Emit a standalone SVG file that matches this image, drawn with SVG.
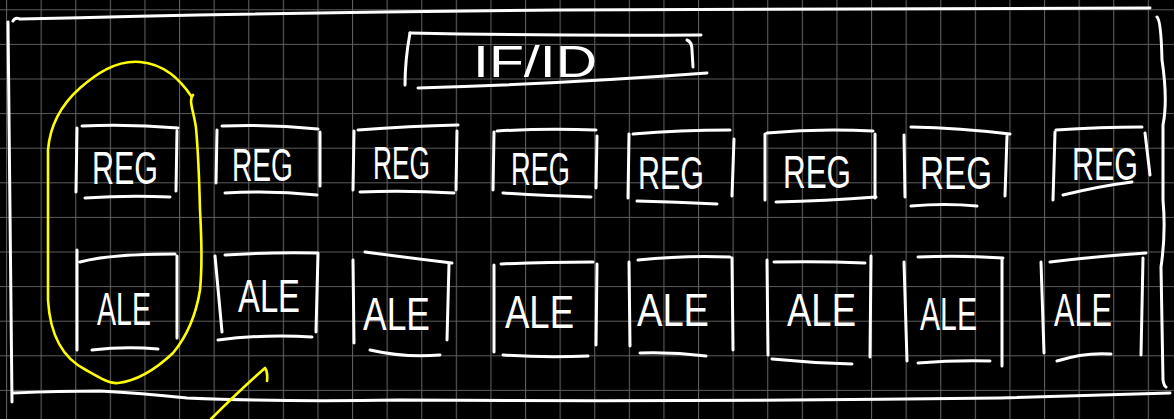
<svg xmlns="http://www.w3.org/2000/svg" width="1174" height="419" viewBox="0 0 1174 419">
<style>
.pen{fill:none;stroke:#ffffff;stroke-width:3;stroke-linecap:round;stroke-linejoin:round}
.hl{fill:none;stroke:#ffff00;stroke-width:2.6;stroke-linecap:round;stroke-linejoin:round}
.lbl{font-family:"Liberation Sans",Arial,sans-serif;font-size:47px;fill:#ffffff}
.title{font-family:"Liberation Sans",Arial,sans-serif;font-size:45px;fill:#ffffff}
</style>
<defs>
<pattern id="grid" patternUnits="userSpaceOnUse" x="6" y="9.3" width="34.6" height="34.6">
<path d="M0.5,0 V34.6 M0,0.5 H34.6" stroke="#5c5c5c" stroke-width="1.2" fill="none"/>
</pattern>
</defs>
<rect width="1174" height="419" fill="#000000"/>
<rect width="1174" height="419" fill="url(#grid)"/>

<g id="frame">
<path class="pen" d="M13,21 Q15,17 20,19 Q300,12 560,10 L1150,8"/>
<path class="pen" d="M8,22 Q10,200 12,402"/>
<path class="pen" d="M1157,17 Q1161,20 1162,60 Q1168,100 1163,125 L1163,200 Q1166,233 1161,267 L1163,380 Q1164,386 1166,387"/>
<path class="pen" d="M13,393 Q60,391 100,391 Q140,393 187,398 Q280,402 400,400 Q700,402 1000,398 L1170,393"/>
</g>

<g id="ifid">
<path class="pen" d="M410,33 Q405,60 405,85"/>
<path class="pen" d="M410,33 Q550,36 701,35"/>
<path class="pen" d="M687,40 Q692,42 692,50 L693,67"/>
<path class="pen" d="M418,88 Q560,84 707,73"/>
<text class="title" x="473" y="77" textLength="124" lengthAdjust="spacingAndGlyphs">IF/ID</text>
</g>

<g id="reg1">
<path class="pen" d="M77,128 L76,192 M82,126 Q130,124 178,128 M177,131 L176,191 M85,198 Q128,195 170,197"/>
<text class="lbl" x="92" y="184" textLength="66" lengthAdjust="spacingAndGlyphs">REG</text>
</g>
<g id="reg2">
<path class="pen" d="M217,130 L216,183 M222,126 Q270,124 318,129 M320,132 L320,186 M225,193 Q270,190 317,195"/>
<text class="lbl" x="232" y="181" textLength="61" lengthAdjust="spacingAndGlyphs">REG</text>
</g>
<g id="reg3">
<path class="pen" d="M354,131 L353,190 M358,130 Q410,126 458,125 M457,131 L456,190 M360,192 Q405,190 454,193"/>
<text class="lbl" x="373" y="179" textLength="57" lengthAdjust="spacingAndGlyphs">REG</text>
</g>
<g id="reg4">
<path class="pen" d="M494,132 L493,190 M497,131 Q545,128 596,130 M597,136 L596,188 M503,193 Q545,196 591,197"/>
<text class="lbl" x="511" y="185" textLength="59" lengthAdjust="spacingAndGlyphs">REG</text>
</g>
<g id="reg5">
<path class="pen" d="M629,134 L628,198 M633,134 Q680,130 730,130 M734,139 L732,196 M637,201 Q677,202 717,204"/>
<text class="lbl" x="638" y="189" textLength="66" lengthAdjust="spacingAndGlyphs">REG</text>
</g>
<g id="reg6">
<path class="pen" d="M765,134 L765,200 M767,133 Q820,128 873,131 M875,134 L875,198 M776,202 Q825,201 876,197"/>
<text class="lbl" x="783" y="188" textLength="68" lengthAdjust="spacingAndGlyphs">REG</text>
</g>
<g id="reg7">
<path class="pen" d="M904,135 L905,197 M911,127 Q960,128 1010,134 M1007,136 L1005,196 M911,206 Q945,203 977,206"/>
<text class="lbl" x="920" y="189" textLength="72" lengthAdjust="spacingAndGlyphs">REG</text>
</g>
<g id="reg8">
<path class="pen" d="M1055,132 L1053,200 M1056,130 Q1100,127 1142,127 M1145,133 L1150,175 M1063,195 Q1100,186 1132,182"/>
<text class="lbl" x="1072" y="180" textLength="66" lengthAdjust="spacingAndGlyphs">REG</text>
</g>

<g id="alu1">
<path class="pen" d="M77,250 L77,350 M80,262 Q110,254 175,254 M177,256 L177,338 M92,350 Q125,346 158,349"/>
<text class="lbl" x="97" y="325" textLength="54" lengthAdjust="spacingAndGlyphs">ALE</text>
</g>
<g id="alu2">
<path class="pen" d="M215,256 L222,332 M225,255 Q270,252 318,253 M318,253 L316,332 M218,340 Q265,334 312,337"/>
<text class="lbl" x="238" y="312" textLength="62" lengthAdjust="spacingAndGlyphs">ALE</text>
</g>
<g id="alu3">
<path class="pen" d="M353,260 L354,343 M365,252 Q410,258 452,263 M449,264 L447,340 M370,350 Q405,358 440,355"/>
<text class="lbl" x="363" y="330" textLength="67" lengthAdjust="spacingAndGlyphs">ALE</text>
</g>
<g id="alu4">
<path class="pen" d="M494,265 L494,352 M501,264 Q545,262 593,262 M597,264 L596,345 M503,355 Q545,358 588,356"/>
<text class="lbl" x="505" y="328" textLength="69" lengthAdjust="spacingAndGlyphs">ALE</text>
</g>
<g id="alu5">
<path class="pen" d="M629,262 L630,346 M638,260 Q685,255 730,257 M732,258 L733,350 M640,353 Q673,352 706,356"/>
<text class="lbl" x="637" y="326" textLength="72" lengthAdjust="spacingAndGlyphs">ALE</text>
</g>
<g id="alu6">
<path class="pen" d="M767,260 L768,355 M774,262 Q820,261 865,263 M871,256 L870,357 M772,359 Q812,363 852,364"/>
<text class="lbl" x="787" y="326" textLength="69" lengthAdjust="spacingAndGlyphs">ALE</text>
</g>
<g id="alu7">
<path class="pen" d="M904,262 L907,361 M918,257 Q960,255 1003,258 M1002,258 L1002,366 M918,363 Q955,360 990,361"/>
<text class="lbl" x="920" y="330" textLength="57" lengthAdjust="spacingAndGlyphs">ALE</text>
</g>
<g id="alu8">
<path class="pen" d="M1041,262 L1044,353 M1050,262 Q1100,256 1146,253 M1143,258 L1141,355 M1057,361 Q1085,352 1111,354"/>
<text class="lbl" x="1054" y="326" textLength="58" lengthAdjust="spacingAndGlyphs">ALE</text>
</g>

<g id="highlight">
<path class="hl" d="M191.7,96.7 C180,80 165,64 140,62 C115,60 95,75 80,88 C62,104 50,125 48,150 L48,300 C50,335 62,358 86,370 C100,378 110,384 118,383 C135,381 155,370 173,353 C188,335 196,315 200,290 C203,260 201,230 200,210 C199,170 198,150 196,128 C194,112 188,100 193,95"/>
</g>

<g id="connectors">
<path class="hl" d="M211,419 Q240,390 265,368 Q268,372 267,381"/>
</g>
</svg>
